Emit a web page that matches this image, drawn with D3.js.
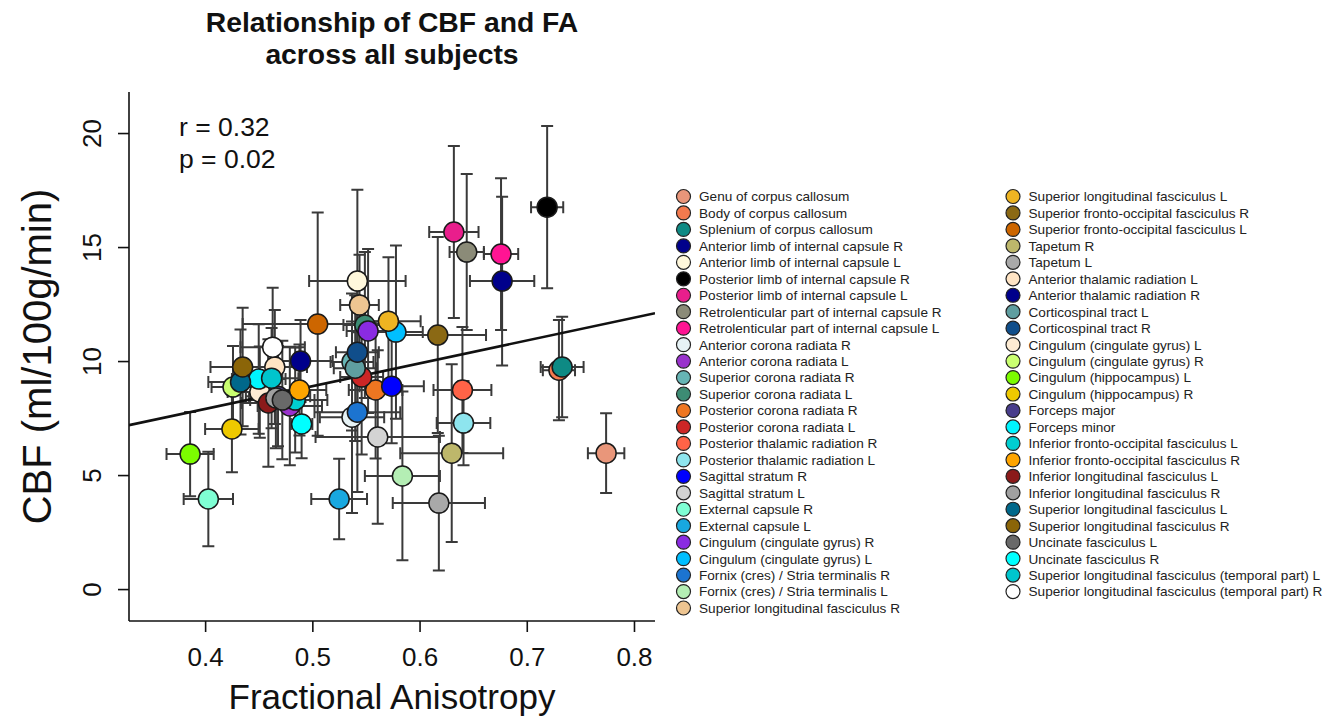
<!DOCTYPE html>
<html>
<head>
<meta charset="utf-8">
<script src="https://cdn.jsdelivr.net/npm/d3@7"></script>
<style>
  html, body { margin: 0; padding: 0; background: #fff; }
  svg { display: block; font-family: "Liberation Sans", Arial, Helvetica, sans-serif; }
</style>
</head>
<body>
<svg id="chart" width="1329" height="719"></svg>
<script>
// White-matter regions (JHU atlas labels) in legend order
const regions = [
  "Genu of corpus callosum",
  "Body of corpus callosum",
  "Splenium of corpus callosum",
  "Anterior limb of internal capsule R",
  "Anterior limb of internal capsule L",
  "Posterior limb of internal capsule R",
  "Posterior limb of internal capsule L",
  "Retrolenticular part of internal capsule R",
  "Retrolenticular part of internal capsule L",
  "Anterior corona radiata R",
  "Anterior corona radiata L",
  "Superior corona radiata R",
  "Superior corona radiata L",
  "Posterior corona radiata R",
  "Posterior corona radiata L",
  "Posterior thalamic radiation R",
  "Posterior thalamic radiation L",
  "Sagittal stratum R",
  "Sagittal stratum L",
  "External capsule R",
  "External capsule L",
  "Cingulum (cingulate gyrus) R",
  "Cingulum (cingulate gyrus) L",
  "Fornix (cres) / Stria terminalis R",
  "Fornix (cres) / Stria terminalis L",
  "Superior longitudinal fasciculus R",
  "Superior longitudinal fasciculus L",
  "Superior fronto-occipital fasciculus R",
  "Superior fronto-occipital fasciculus L",
  "Tapetum R",
  "Tapetum L",
  "Anterior thalamic radiation L",
  "Anterior thalamic radiation R",
  "Corticospinal tract L",
  "Corticospinal tract R",
  "Cingulum (cingulate gyrus) L",
  "Cingulum (cingulate gyrus) R",
  "Cingulum (hippocampus) L",
  "Cingulum (hippocampus) R",
  "Forceps major",
  "Forceps minor",
  "Inferior fronto-occipital fasciculus L",
  "Inferior fronto-occipital fasciculus R",
  "Inferior longitudinal fasciculus L",
  "Inferior longitudinal fasciculus R",
  "Superior longitudinal fasciculus L",
  "Superior longitudinal fasciculus R",
  "Uncinate fasciculus L",
  "Uncinate fasciculus R",
  "Superior longitudinal fasciculus (temporal part) L",
  "Superior longitudinal fasciculus (temporal part) R"
];

const regionColors = [
  "#E9967A", "#F47A4E", "#0E8A84", "#00008B", "#FFF8DC", "#000000", "#E91E8C",
  "#8B8B78", "#FF1493", "#E6F2F5", "#9932CC", "#66B5B5", "#3D8C74", "#EE7621",
  "#CD2626", "#FF6347", "#8EE5EE", "#0000FF", "#D3D3D3", "#7FFFD4", "#18A8E0",
  "#8A2BE2", "#00BFFF", "#1C74D0", "#B4EEB4", "#EEC591",
  "#EEB422", "#8B6914", "#CD6600", "#BDB76B", "#A9A9A9", "#FFE4C4", "#00008B",
  "#5F9EA0", "#104E8B", "#FDEBD3", "#CAFF70", "#7CFC00", "#EEC900", "#483D8B",
  "#00F5FF", "#00CED1", "#FFA500", "#8B1A1A", "#A0A0A0", "#00688B", "#8B6508",
  "#696969", "#00FFFF", "#00C5CD", "#FFFFFF"
];

// Mean fractional anisotropy per region and its SD
const faMean = [
  0.774, 0.730, 0.733, 0.677, 0.542, 0.719, 0.632, 0.644, 0.676, 0.537,
  0.479, 0.537, 0.549, 0.559, 0.546, 0.640, 0.641, 0.574, 0.561, 0.403,
  0.525, 0.552, 0.578, 0.542, 0.584, 0.544,
  0.571, 0.617, 0.505, 0.630, 0.618, 0.465, 0.489, 0.540, 0.542, 0.451,
  0.426, 0.386, 0.425, 0.468, 0.450, 0.484, 0.488, 0.459, 0.466, 0.433,
  0.435, 0.472, 0.490, 0.462, 0.463
];
const faSd = [
  0.017, 0.015, 0.020, 0.030, 0.045, 0.015, 0.023, 0.016, 0.016, 0.030,
  0.030, 0.020, 0.020, 0.025, 0.020, 0.027, 0.025, 0.030, 0.058, 0.023,
  0.026, 0.020, 0.025, 0.040, 0.035, 0.018,
  0.030, 0.045, 0.070, 0.048, 0.043, 0.030, 0.030, 0.020, 0.020, 0.030,
  0.020, 0.022, 0.025, 0.030, 0.025, 0.030, 0.025, 0.025, 0.025, 0.030,
  0.030, 0.030, 0.010, 0.025, 0.030
];

// Mean cerebral blood flow (ml/100g/min) per region and its SD
const cbfMean = [
  5.96, 9.60, 9.74, 13.51, 13.51, 16.75, 15.66, 14.78, 14.69, 7.54,
  8.03, 9.96, 11.58, 8.73, 9.30, 8.73, 7.28, 8.90, 6.67, 3.95,
  3.95, 11.32, 11.27, 7.76, 4.96, 12.46,
  11.75, 11.14, 11.62, 5.96, 3.77, 9.74, 10.00, 9.69, 10.39, 8.64,
  8.86, 5.92, 7.02, 8.46, 9.21, 8.29, 8.73, 8.16, 8.38, 9.08,
  9.74, 8.29, 7.24, 9.25, 10.61
];
const cbfSd = [
  1.75, 2.20, 2.20, 3.70, 4.00, 3.56, 3.77, 3.42, 3.33, 4.20,
  2.60, 3.00, 3.20, 3.00, 3.40, 2.76, 1.85, 2.50, 3.80, 2.07,
  1.77, 3.60, 3.80, 3.50, 3.70, 2.20,
  2.80, 4.30, 4.90, 3.90, 2.95, 2.50, 1.80, 3.20, 2.80, 2.00,
  1.80, 1.85, 1.90, 2.20, 2.40, 2.30, 2.00, 2.80, 2.20, 2.30,
  2.60, 2.60, 1.50, 2.20, 2.60
];

const xTicks = [0.4, 0.5, 0.6, 0.7, 0.8];
const yTicks = [0, 5, 10, 15, 20];
const xRange = [0.329, 0.8196];
const yRange = [-1.4, 21.8];

// Least-squares fit of CBF on FA
const fitIntercept = 3.9;
const fitSlope = 10.0;
const statLines = ["r = 0.32", "p = 0.02"];
const titleLines = ["Relationship of CBF and FA", "across all subjects"];

const margin = { top: 92, right: 674, bottom: 98, left: 129 };
const W = 1329, H = 719;

const svg = d3.select("#chart");
const x = d3.scaleLinear().domain(xRange).range([margin.left, W - margin.right]);
const y = d3.scaleLinear().domain(yRange).range([H - margin.bottom, margin.top]);

const pts = regions.map((name, i) => ({
  name, color: regionColors[i],
  fa: faMean[i], faSd: faSd[i], cbf: cbfMean[i], cbfSd: cbfSd[i]
}));

// Title
svg.append("g").selectAll("text").data(titleLines).join("text")
  .attr("x", (x.range()[0] + x.range()[1]) / 2)
  .attr("y", (d, i) => 32 + i * 32)
  .attr("text-anchor", "middle")
  .attr("font-weight", "bold")
  .attr("font-size", 28.3)
  .attr("fill", "#111")
  .text(d => d);

// L-shaped frame
const frame = svg.append("g").attr("stroke", "#111").attr("stroke-width", 1.6);
frame.append("line").attr("x1", x.range()[0]).attr("x2", x.range()[1])
  .attr("y1", y.range()[0]).attr("y2", y.range()[0]);
frame.append("line").attr("x1", x.range()[0]).attr("x2", x.range()[0])
  .attr("y1", y.range()[0]).attr("y2", y.range()[1]);

// X axis
const gx = svg.append("g")
  .attr("transform", `translate(0,${y.range()[0]})`)
  .call(d3.axisBottom(x).tickValues(xTicks).tickSize(11).tickPadding(16)
    .tickFormat(d3.format(".1f")));
gx.select(".domain").remove();
gx.selectAll("line").attr("stroke", "#111").attr("stroke-width", 1.6);
gx.selectAll("text").attr("font-size", 26).attr("fill", "#111")
  .attr("font-family", "Liberation Sans, Arial, sans-serif");

// Y axis with labels rotated parallel to the axis
const gy = svg.append("g")
  .attr("transform", `translate(${x.range()[0]},0)`)
  .call(d3.axisLeft(y).tickValues(yTicks).tickSize(11));
gy.select(".domain").remove();
gy.selectAll("line").attr("stroke", "#111").attr("stroke-width", 1.6);
gy.selectAll("text")
  .attr("x", null).attr("dy", null)
  .attr("font-size", 26).attr("fill", "#111")
  .attr("font-family", "Liberation Sans, Arial, sans-serif")
  .attr("text-anchor", "middle")
  .attr("transform", "translate(-28,0) rotate(-90)");

// Axis titles
svg.append("text")
  .attr("x", (x.range()[0] + x.range()[1]) / 2)
  .attr("y", 709)
  .attr("text-anchor", "middle")
  .attr("font-size", 35)
  .attr("fill", "#111")
  .text("Fractional Anisotropy");
svg.append("text")
  .attr("transform", `translate(51,${(y.range()[0] + y.range()[1]) / 2}) rotate(-90)`)
  .attr("text-anchor", "middle")
  .attr("font-size", 40)
  .attr("fill", "#111")
  .text("CBF (ml/100g/min)");

// Clip region for the plotting area
svg.append("clipPath").attr("id", "plotClip").append("rect")
  .attr("x", x.range()[0]).attr("y", y.range()[1])
  .attr("width", x.range()[1] - x.range()[0])
  .attr("height", y.range()[0] - y.range()[1]);

const cap = 6;
const bars = svg.append("g").attr("stroke", "#3a3a3a").attr("stroke-width", 2)
  .attr("fill", "none");

// Vertical error bars (CBF ± SD)
pts.forEach(d => {
  const cx = x(d.fa), lo = y(d.cbf - d.cbfSd), hi = y(d.cbf + d.cbfSd);
  bars.append("path").attr("d",
    `M${cx},${lo}V${hi}M${cx - cap},${lo}H${cx + cap}M${cx - cap},${hi}H${cx + cap}`);
});
// Horizontal error bars (FA ± SD)
pts.forEach(d => {
  const cy = y(d.cbf), lo = x(d.fa - d.faSd), hi = x(d.fa + d.faSd);
  bars.append("path").attr("d",
    `M${lo},${cy}H${hi}M${lo},${cy - cap}V${cy + cap}M${hi},${cy - cap}V${cy + cap}`);
});

// Regression line across the plotting region
svg.append("line")
  .attr("clip-path", "url(#plotClip)")
  .attr("x1", x(xRange[0])).attr("y1", y(fitIntercept + fitSlope * xRange[0]))
  .attr("x2", x(xRange[1])).attr("y2", y(fitIntercept + fitSlope * xRange[1]))
  .attr("stroke", "#111").attr("stroke-width", 2.6);

// Region means
svg.append("g").selectAll("circle").data(pts).join("circle")
  .attr("cx", d => x(d.fa))
  .attr("cy", d => y(d.cbf))
  .attr("r", 10)
  .attr("fill", d => d.color)
  .attr("stroke", "#1a1a1a")
  .attr("stroke-width", 1.5);

// Correlation statistics
svg.append("g").selectAll("text").data(statLines).join("text")
  .attr("x", 179)
  .attr("y", (d, i) => 136 + i * 32)
  .attr("font-size", 26.5)
  .attr("fill", "#111")
  .text(d => d);

// Legend in two columns
const perCol = 26;
const legend = svg.append("g");
const rowH = 16.46;
const colX = [683.5, 1013];
const items = legend.selectAll("g").data(pts).join("g")
  .attr("transform", (d, i) => {
    const c = i < perCol ? 0 : 1;
    const r = i < perCol ? i : i - perCol;
    return `translate(${colX[c]},${196.5 + r * rowH})`;
  });
items.append("circle").attr("r", 7)
  .attr("fill", d => d.color).attr("stroke", "#222").attr("stroke-width", 1.2);
items.append("text").attr("x", 15.5).attr("dy", "0.36em")
  .attr("font-size", 13.6).attr("fill", "#222")
  .text(d => d.name);
</script>
</body>
</html>
